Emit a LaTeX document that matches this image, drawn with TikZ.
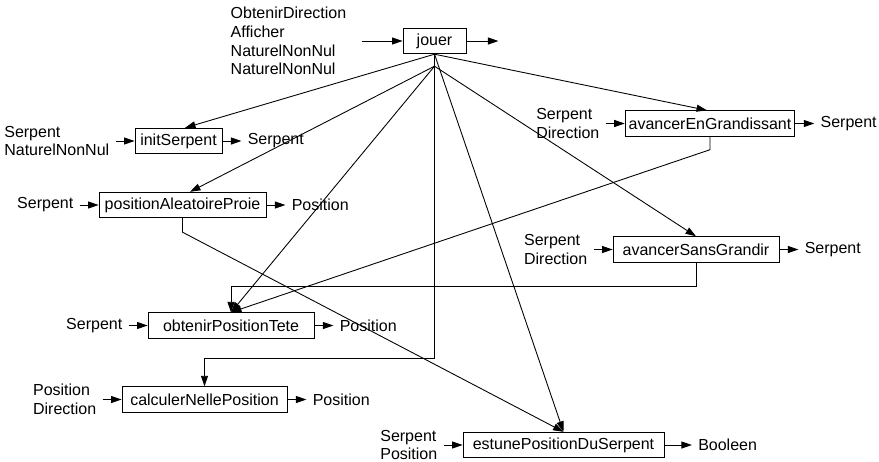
\documentclass[tikz,border=0pt]{standalone}
\usepackage{fontspec}
\setmainfont{Liberation Sans}
\usetikzlibrary{positioning,arrows.meta,calc}

\begin{document}
\begin{tikzpicture}[
  x=0.02cm, y=-0.02cm,
  node distance=0.38cm,
  every node/.style={font=\fontsize{9.1}{10.6}\selectfont},
  fn/.style={draw, line width=0.5pt, minimum height=0.51cm, inner xsep=2pt, inner ysep=0pt},
  lbl/.style={align=left, inner xsep=0.12cm, inner ysep=0pt},
  arr/.style={-{Triangle[length=0.21cm,width=0.14cm]}, line width=0.5pt}
]
  \useasboundingbox (0,0) rectangle (879,461);

  \node[fn, minimum width=1.26cm] (jouer) at (434.5,41) {jouer};
  \node[fn, minimum width=1.74cm] (init) at (178.5,141) {initSerpent};
  \node[fn, minimum width=3.34cm] (alea) at (182.5,205) {positionAleatoireProie};
  \node[fn, minimum width=3.36cm] (grand) at (710,123.5) {avancerEnGrandissant};
  \node[fn, minimum width=3.32cm] (sans) at (696,249.5) {avancerSansGrandir};
  \node[fn, minimum width=3.32cm] (tete) at (231,325.5) {obtenirPositionTete};
  \node[fn, minimum width=3.3cm] (nelle) at (204.5,399.5) {calculerNellePosition};
  \node[fn, minimum width=4.02cm] (estune) at (563.5,445) {estunePositionDuSerpent};

  % entrees et sorties
  \node[lbl, left=0.82cm of jouer, inner xsep=0.3cm] (jouer-in) {ObtenirDirection\\Afficher\\NaturelNonNul\\NaturelNonNul};
  \coordinate[right=0.64cm of jouer] (jouer-out);
  \node[lbl, left=of init] (init-in) {Serpent\\NaturelNonNul};
  \node[lbl, right=of init] (init-out) {Serpent};
  \node[lbl, left=of alea] (alea-in) {Serpent};
  \node[lbl, right=of alea] (alea-out) {Position};
  \node[lbl, left=of grand] (grand-in) {Serpent\\Direction};
  \node[lbl, right=of grand] (grand-out) {Serpent};
  \node[lbl, left=of sans] (sans-in) {Serpent\\Direction};
  \node[lbl, right=of sans] (sans-out) {Serpent};
  \node[lbl, left=of tete] (tete-in) {Serpent};
  \node[lbl, right=of tete] (tete-out) {Position};
  \node[lbl, left=of nelle] (nelle-in) {Position\\Direction};
  \node[lbl, right=of nelle] (nelle-out) {Position};
  \node[lbl, left=of estune] (estune-in) {Serpent\\Position};
  \node[lbl, right=0.55cm of estune] (estune-out) {Booleen};

  \draw[arr] (jouer-in) -- (jouer);
  \draw[arr] (jouer) -- (jouer-out);
  \draw[arr] (init-in) -- (init);
  \draw[arr] (init) -- (init-out);
  \draw[arr] (alea-in) -- (alea);
  \draw[arr] (alea) -- (alea-out);
  \draw[arr] (grand-in) -- (grand);
  \draw[arr] (grand) -- (grand-out);
  \draw[arr] (sans-in) -- (sans);
  \draw[arr] (sans) -- (sans-out);
  \draw[arr] (tete-in) -- (tete);
  \draw[arr] (tete) -- (tete-out);
  \draw[arr] (nelle-in) -- (nelle);
  \draw[arr] (nelle) -- (nelle-out);
  \draw[arr] (estune-in) -- (estune);
  \draw[arr] (estune) -- (estune-out);

  % appels depuis jouer
  \coordinate (fork) at ($(jouer.south)+(0,12)$);
  \draw[arr] (jouer.south) -- ($(init.north)+(6.5,0)$);
  \draw[arr] (fork) -- ($(alea.north)+(7.5,0)$);
  \draw[arr] (fork) -- (tete.north);
  \draw[arr] (fork) -- (sans.north);
  \draw[arr] (jouer.south) -- ($(grand.north)+(-3,0)$);
  \draw[arr] (jouer.south) -- (estune.north);
  \draw[arr] (jouer.south) -- ++(0,304) -| (nelle.north);

  % appels internes
  \draw[arr] (alea.south) -- ++(0,14) -- (estune.north);
  \draw[arr] (grand.south) -- ++(0,13) -- (tete.north);
  \draw[arr] (sans.south) -- ++(0,24) -| (tete.north);
\end{tikzpicture}
\end{document}
